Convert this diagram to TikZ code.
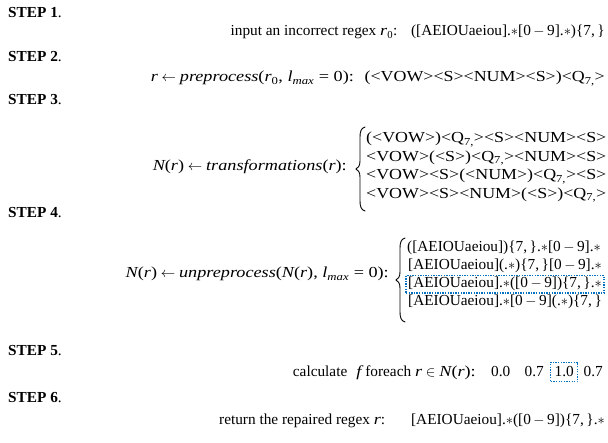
\documentclass[tikz,border=0pt]{standalone}
\usepackage{fontspec}
\setmainfont{Liberation Serif}
\newfontfamily\wfont{Liberation Serif}[FakeStretch=1.17]
\newfontfamily\lfont{Liberation Serif}[FakeStretch=1.19]
\usetikzlibrary{fit}
\definecolor{boxblue}{RGB}{0,112,192}
\newcommand\myQ{<Q\textsubscript{7,}>}
\newcommand\myast{$\ast$}
\newcommand\mymin{\,$-$\,}
\newcommand\myrep{\{7,\,\}}
\newcommand\mi[1]{{\lfont\itshape #1}}
\tikzset{
  txt/.style={inner sep=0pt, font=\fontsize{15.3}{18}\selectfont},
  rowl/.style={txt, anchor=base west},
  rowr/.style={txt, anchor=base east},
  angrow/.style={rowl, font=\fontsize{15.3}{18}\selectfont\wfont},
  steplabel/.style={txt, anchor=base west},
  lbl/.style={txt, anchor=base east},
  bracestyle/.style={line width=0.9pt, line cap=round},
  dotbox/.style={draw=boxblue, line width=1.3pt, dash pattern=on 1.3pt off 1.3pt},
}
\begin{document}
\begin{tikzpicture}[x=1pt,y=-1pt]
\useasboundingbox (0,0) rectangle (608,443);
% STEP 1
\node[steplabel] (s1) at (8,18) {{\bfseries STEP 1}.};
\node[rowr] (l1) at (605,36) {input an incorrect regex \mi{r}\textsubscript{0}:\hspace{0.9em}([AEIOUaeiou].\myast[0\mymin9].\myast)\myrep};
% STEP 2
\node[steplabel] (s2) at (8,62) {{\bfseries STEP 2}.};
\node[rowr] (l2) at (605,82) {{\lfont\itshape r} $\leftarrow$ {\lfont\itshape preprocess\upshape(\itshape r\upshape\textsubscript{0}, \itshape l\textsubscript{max}\upshape\ = 0):}\hspace{0.7em}{\wfont(<VOW><S><NUM><S>)\myQ}};
% STEP 3
\node[steplabel] (s3) at (8,105) {{\bfseries STEP 3}.};
\node[lbl] (t3) at (347,171) {{\lfont\itshape N\upshape(\itshape r\upshape)} $\leftarrow$ {\lfont\itshape transformations\upshape(\itshape r\upshape):}};
\draw[bracestyle] (365,127) .. controls (361,128) and (360,132) .. (360,137) -- (360,161) .. controls (360,166) and (358,168) .. (356,169) .. controls (358,170) and (360,172) .. (360,177) -- (360,201) .. controls (360,206) and (361,210) .. (365,211);
\node[angrow] (r31) at (366,143) {(<VOW>)\myQ<S><NUM><S>};
\node[angrow] (r32) at (366,161.5) {<VOW>(<S>)\myQ<NUM><S>};
\node[angrow] (r33) at (366,180) {<VOW><S>(<NUM>)\myQ<S>};
\node[angrow] (r34) at (366,198.5) {<VOW><S><NUM>(<S>)\myQ};
% STEP 4
\node[steplabel] (s4) at (8,218) {{\bfseries STEP 4}.};
\node[lbl] (t4) at (389,278) {{\lfont\itshape N\upshape(\itshape r\upshape)} $\leftarrow$ {\lfont\itshape unpreprocess\upshape(\itshape N\upshape(\itshape r\upshape), \itshape l\textsubscript{max}\upshape\ = 0):}};
\draw[bracestyle] (405,238) .. controls (401,239) and (400,243) .. (400,248) -- (400,272) .. controls (400,277) and (398,279) .. (396,280) .. controls (398,281) and (400,283) .. (400,288) -- (400,312) .. controls (400,317) and (401,321) .. (405,322);
\node[rowl] (r41) at (407,252) {([AEIOUaeiou])\myrep.\myast[0\mymin9].\myast};
\node[rowl] (r42) at (408,270) {[AEIOUaeiou](.\myast)\myrep[0\mymin9].\myast};
\node[rowl] (r43) at (408,288) {[AEIOUaeiou].\myast([0\mymin9])\myrep.\myast};
\node[rowl] (r44) at (408,306) {[AEIOUaeiou].\myast[0\mymin9](.\myast)\myrep};
\node[dotbox, fit=(r43), inner xsep=2pt, inner ysep=1.5pt] (b43) {};
% STEP 5
\node[steplabel] (s5) at (8,356) {{\bfseries STEP 5}.};
\node[rowr] (v4) at (603,377) {0.7};
\node[txt, dotbox, anchor=base east, inner xsep=4pt, inner ysep=4.5pt] (v3) at ([xshift=-5pt]v4.base west) {1.0};
\node[rowr] (v2) at ([xshift=-6pt]v3.base west) {0.7};
\node[rowr] (v1) at ([xshift=-14pt]v2.base west) {0.0};
\node[rowr] (l5) at ([xshift=-15pt]v1.base west) {calculate\hspace{0.6em}\mi{f} foreach \mi{r} $\in$ {\lfont\itshape N\upshape(\itshape r\upshape):}};
% STEP 6
\node[steplabel] (s6) at (8,403) {{\bfseries STEP 6}.};
\node[rowr] (l6) at (605,425) {return the repaired regex \mi{r}:\hspace{26pt}[AEIOUaeiou].\myast([0\mymin9])\myrep.\myast};
\end{tikzpicture}
\end{document}
